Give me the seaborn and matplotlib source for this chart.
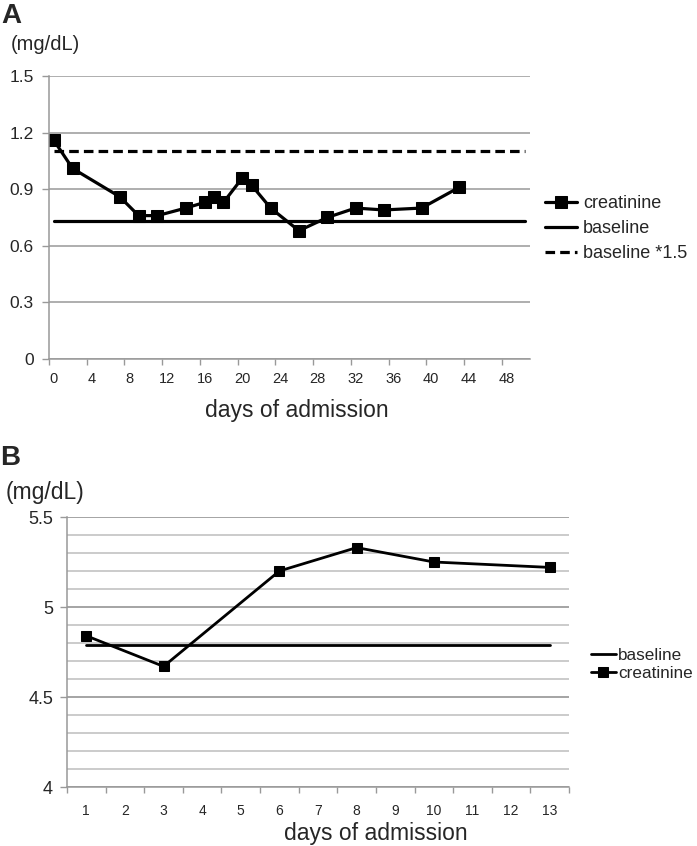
import numpy as np
import pandas as pd
import seaborn as sns
import matplotlib.pyplot as plt

# panel A
days_a = [0, 2, 7, 9, 11, 14, 16, 17, 18, 20, 21, 23, 26, 29, 32, 35, 39, 43]
creat_a = [1.16, 1.01, 0.86, 0.76, 0.76, 0.80, 0.83, 0.86, 0.83, 0.96, 0.92,
           0.80, 0.68, 0.75, 0.80, 0.79, 0.80, 0.91]
baseline_days_a = [0, 50]
baseline_a = [0.733, 0.733]
baseline15_a = [1.1, 1.1]
xticks_a = list(range(0, 49, 4))
yticks_a = [0, 0.3, 0.6, 0.9, 1.2, 1.5]

# panel B
days_b = [1, 3, 6, 8, 10, 13]
creat_b = [4.84, 4.67, 5.20, 5.33, 5.25, 5.22]
baseline_days_b = [1, 13]
baseline_b = [4.79, 4.79]
xticks_b = list(range(1, 14))
yticks_b = [4, 4.5, 5, 5.5]

sns.set_style('white')
plt.rcParams['font.family'] = ['Liberation Sans', 'DejaVu Sans']

W, H = 697, 846
fig = plt.figure(figsize=(W / 100, H / 100), dpi=100)


def box(l, t, r, b):
    return [l / W, 1 - b / H, (r - l) / W, (b - t) / H]


grid_c = '#999999'

# ---------- A ----------
ax = fig.add_axes(box(49, 76, 530, 359))
df_a = pd.DataFrame({'day': days_a, 'creatinine': creat_a})
sns.lineplot(data=df_a, x='day', y='creatinine', ax=ax, color='black', lw=2.3,
             marker='s', markersize=8.5, markeredgecolor='black', label='creatinine')
sns.lineplot(x=baseline_days_a, y=baseline_a, ax=ax, color='black', lw=2.3, label='baseline')
sns.lineplot(x=baseline_days_a, y=baseline15_a, ax=ax, color='black', lw=2.3,
             linestyle=(0, (3, 1.6)), label='baseline *1.5')
ax.set_xlim(-0.5, 50.5)
ax.set_ylim(0, 1.5)
ax.set_yticks(yticks_a)
ax.set_yticklabels(['0', '0.3', '0.6', '0.9', '1.2', '1.5'], fontsize=12.5)
ax.set_xticks(xticks_a)
ax.set_xticklabels([str(t) for t in xticks_a], fontsize=10.5)
ax.set_xticks(np.arange(-0.5, 48, 4), minor=True)
ax.tick_params(axis='x', which='major', length=0, pad=9)
ax.tick_params(axis='x', which='minor', length=4, width=1, color=grid_c, direction='out', bottom=True)
ax.tick_params(axis='y', length=5, width=1, color=grid_c, direction='out', left=True, pad=6)
ax.grid(axis='y', color=grid_c, lw=1.1)
ax.set_axisbelow(True)
for s in ['top', 'right']:
    ax.spines[s].set_visible(False)
for s in ['left', 'bottom']:
    ax.spines[s].set_color(grid_c)
    ax.spines[s].set_linewidth(1.1)
ax.set_xlabel('')
ax.set_ylabel('')
h, l = ax.get_legend_handles_labels()
ax.get_legend().remove()
fig.legend(h, l, loc='upper left', bbox_to_anchor=(545 / W, 1 - 195 / H), frameon=False,
           fontsize=13, handlelength=1.75, handletextpad=0.35, labelspacing=0.45,
           borderaxespad=0, borderpad=0)

fig.text(1 / W, 1 - 16 / H, 'A', fontsize=20, fontweight='bold', va='center', ha='left')
fig.text(11 / W, 1 - 44 / H, '(mg/dL)', fontsize=14.5, va='center', ha='left')
fig.text(297 / W, 1 - 410 / H, 'days of admission', fontsize=16.5, va='center', ha='center')

# ---------- B ----------
bx = fig.add_axes(box(67, 517, 569, 787))
sns.lineplot(x=baseline_days_b, y=baseline_b, ax=bx, color='black', lw=2, label='baseline')
df_b = pd.DataFrame({'day': days_b, 'creatinine': creat_b})
sns.lineplot(data=df_b, x='day', y='creatinine', ax=bx, color='black', lw=2,
             marker='s', markersize=7, markeredgecolor='black', label='creatinine')
bx.set_xlim(0.5, 13.5)
bx.set_ylim(4, 5.5)
bx.set_yticks(yticks_b)
bx.set_yticklabels(['4', '4.5', '5', '5.5'], fontsize=13)
bx.set_yticks(np.arange(4.1, 5.45, 0.1), minor=True)
bx.set_xticks(xticks_b)
bx.set_xticklabels([str(t) for t in xticks_b], fontsize=10)
bx.set_xticks(np.arange(0.5, 13.6, 1), minor=True)
bx.tick_params(axis='x', which='major', length=0, pad=12)
bx.tick_params(axis='x', which='minor', length=4, width=1, color=grid_c, direction='out', bottom=True)
bx.tick_params(axis='y', which='major', length=5, width=1, color=grid_c, direction='out', left=True, pad=5)
bx.tick_params(axis='y', which='minor', length=0)
bx.grid(axis='y', which='major', color='#8c8c8c', lw=1.1)
bx.grid(axis='y', which='minor', color='#bdbdbd', lw=1.1)
bx.set_axisbelow(True)
for s in ['top', 'right']:
    bx.spines[s].set_visible(False)
for s in ['left', 'bottom']:
    bx.spines[s].set_color(grid_c)
    bx.spines[s].set_linewidth(1.1)
bx.set_xlabel('')
bx.set_ylabel('')
h, l = bx.get_legend_handles_labels()
bx.get_legend().remove()
fig.legend(h, l, loc='upper left', bbox_to_anchor=(591 / W, 1 - 648 / H), frameon=False,
           fontsize=12.3, handlelength=1.45, handletextpad=0.15, labelspacing=0.15,
           borderaxespad=0, borderpad=0)

fig.text(0 / W, 1 - 458 / H, 'B', fontsize=20, fontweight='bold', va='center', ha='left')
fig.text(6 / W, 1 - 492 / H, '(mg/dL)', fontsize=16.5, va='center', ha='left')
fig.text(376 / W, 1 - 833 / H, 'days of admission', fontsize=16.5, va='center', ha='center')

fig.savefig('out.png', dpi=100)
